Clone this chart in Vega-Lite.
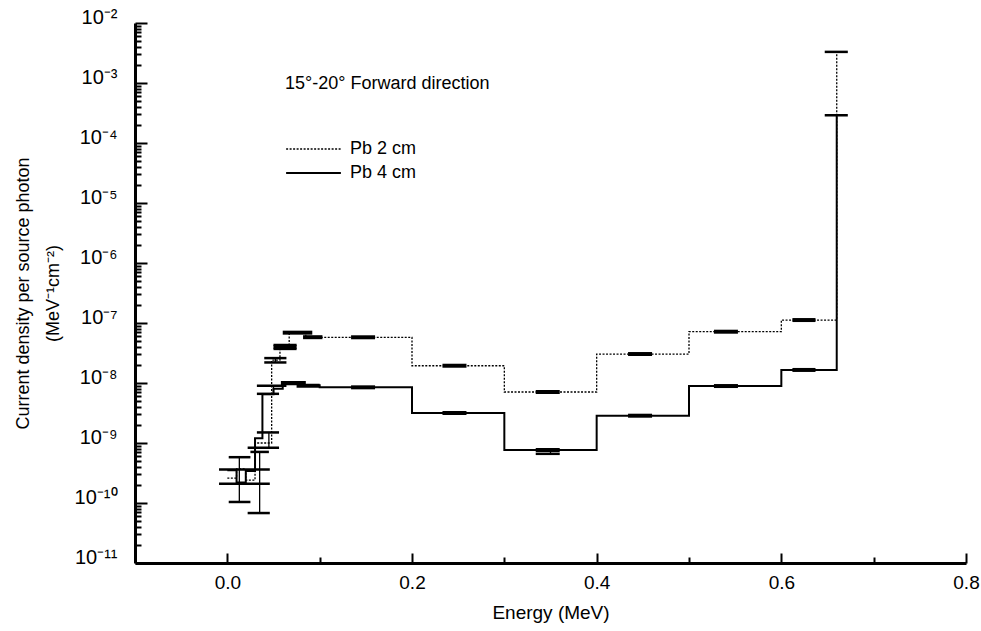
{
  "$schema": "https://vega.github.io/schema/vega-lite/v6.json",
  "width": 831,
  "height": 540,
  "autosize": "none",
  "padding": {"left": 135, "top": 23, "right": 15, "bottom": 68},
  "background": "white",
  "config": {
    "font": "Liberation Sans",
    "view": {"stroke": null},
    "axis": {"labelFont": "Liberation Sans", "titleFont": "Liberation Sans", "labelColor": "black", "titleColor": "black", "titleFontWeight": "normal"},
    "legend": {"labelFont": "Liberation Sans", "titleFont": "Liberation Sans"}
  },
  "datasets": {
    "lines": [
      {"series": "Pb 2 cm", "x": 0.0, "y": 2.6e-10},
      {"series": "Pb 2 cm", "x": 0.01, "y": 3.7e-10},
      {"series": "Pb 2 cm", "x": 0.02, "y": 2.4e-10},
      {"series": "Pb 2 cm", "x": 0.03, "y": 1.0e-9},
      {"series": "Pb 2 cm", "x": 0.048, "y": 2.4e-8},
      {"series": "Pb 2 cm", "x": 0.057, "y": 4.0e-8},
      {"series": "Pb 2 cm", "x": 0.067, "y": 6.9e-8},
      {"series": "Pb 2 cm", "x": 0.085, "y": 5.8e-8},
      {"series": "Pb 2 cm", "x": 0.1, "y": 5.78e-8},
      {"series": "Pb 2 cm", "x": 0.2, "y": 1.94e-8},
      {"series": "Pb 2 cm", "x": 0.3, "y": 7.08e-9},
      {"series": "Pb 2 cm", "x": 0.4, "y": 3.04e-8},
      {"series": "Pb 2 cm", "x": 0.5, "y": 7.16e-8},
      {"series": "Pb 2 cm", "x": 0.6, "y": 1.12e-7},
      {"series": "Pb 2 cm", "x": 0.66, "y": 3.3e-3},
      {"series": "Pb 4 cm", "x": 0.0, "y": 3.5e-10},
      {"series": "Pb 4 cm", "x": 0.01, "y": 2.2e-10},
      {"series": "Pb 4 cm", "x": 0.02, "y": 3.4e-10},
      {"series": "Pb 4 cm", "x": 0.03, "y": 1.2e-9},
      {"series": "Pb 4 cm", "x": 0.038, "y": 6.5e-9},
      {"series": "Pb 4 cm", "x": 0.05, "y": 8.0e-9},
      {"series": "Pb 4 cm", "x": 0.06, "y": 9.5e-9},
      {"series": "Pb 4 cm", "x": 0.08, "y": 9.2e-9},
      {"series": "Pb 4 cm", "x": 0.1, "y": 8.47e-9},
      {"series": "Pb 4 cm", "x": 0.2, "y": 3.16e-9},
      {"series": "Pb 4 cm", "x": 0.3, "y": 7.64e-10},
      {"series": "Pb 4 cm", "x": 0.4, "y": 2.85e-9},
      {"series": "Pb 4 cm", "x": 0.5, "y": 8.9e-9},
      {"series": "Pb 4 cm", "x": 0.6, "y": 1.65e-8},
      {"series": "Pb 4 cm", "x": 0.66, "y": 2.9e-4}
    ],
    "markers": [
      {"x": 0.134, "x2": 0.16, "y": 5.78e-8},
      {"x": 0.233, "x2": 0.259, "y": 1.94e-8},
      {"x": 0.334, "x2": 0.36, "y": 7.08e-9},
      {"x": 0.434, "x2": 0.46, "y": 3.04e-8},
      {"x": 0.527, "x2": 0.553, "y": 7.16e-8},
      {"x": 0.612, "x2": 0.637, "y": 1.12e-7},
      {"x": 0.05, "x2": 0.075, "y": 4.0e-8},
      {"x": 0.06, "x2": 0.092, "y": 6.9e-8},
      {"x": 0.082, "x2": 0.103, "y": 5.8e-8},
      {"x": 0.134, "x2": 0.16, "y": 8.47e-9},
      {"x": 0.233, "x2": 0.259, "y": 3.16e-9},
      {"x": 0.334, "x2": 0.36, "y": 7.64e-10},
      {"x": 0.434, "x2": 0.46, "y": 2.85e-9},
      {"x": 0.527, "x2": 0.553, "y": 8.9e-9},
      {"x": 0.612, "x2": 0.637, "y": 1.65e-8},
      {"x": 0.058, "x2": 0.085, "y": 1.0e-8},
      {"x": 0.075, "x2": 0.1, "y": 9.0e-9}
    ],
    "errors": [
      {"x": 0.013, "y": 1.04e-10, "y2": 5.8e-10},
      {"x": 0.035, "y": 6.8e-11, "y2": 7.1e-10},
      {"x": 0.045, "y": 8.3e-10, "y2": 1.5e-9},
      {"x": 0.05, "y": 6.6e-9, "y2": 9.0e-9},
      {"x": 0.052, "y": 2.2e-8, "y2": 2.6e-8},
      {"x": 0.063, "y": 3.7e-8, "y2": 4.3e-8},
      {"x": 0.35, "y": 6.6e-10, "y2": 8.0e-10}
    ],
    "caps": [
      {"x": 0.0015, "x2": 0.025, "y": 5.8e-10},
      {"x": 0.0015, "x2": 0.025, "y": 1.04e-10},
      {"x": 0.022, "x2": 0.046, "y": 6.8e-11},
      {"x": 0.025, "x2": 0.045, "y": 7.1e-10},
      {"x": 0.022, "x2": 0.056, "y": 8.3e-10},
      {"x": 0.032, "x2": 0.056, "y": 1.5e-9},
      {"x": 0.032, "x2": 0.056, "y": 6.6e-9},
      {"x": 0.032, "x2": 0.064, "y": 9.0e-9},
      {"x": 0.04, "x2": 0.064, "y": 2.2e-8},
      {"x": 0.04, "x2": 0.064, "y": 2.6e-8},
      {"x": 0.05, "x2": 0.075, "y": 3.7e-8},
      {"x": 0.05, "x2": 0.075, "y": 4.3e-8},
      {"x": 0.334, "x2": 0.36, "y": 6.6e-10},
      {"x": 0.647, "x2": 0.672, "y": 3.3e-3},
      {"x": 0.647, "x2": 0.672, "y": 2.9e-4},
      {"x": -0.009, "x2": 0.046, "y": 3.6e-10},
      {"x": -0.009, "x2": 0.046, "y": 2.1e-10}
    ]
  },
  "layer": [
    {
      "data": {"name": "lines"},
      "mark": {"type": "line", "interpolate": "step-after", "color": "black"},
      "encoding": {
        "x": {
          "field": "x", "type": "quantitative",
          "scale": {"domain": [-0.1, 0.8], "nice": false, "zero": false},
          "axis": {
            "title": "Energy (MeV)",
            "values": [0, 0.1, 0.2, 0.3, 0.4, 0.5, 0.6, 0.7, 0.8],
            "labelExpr": "round(datum.value*10) % 2 == 0 ? format(datum.value, '.1f') : ''",
            "tickSize": {"condition": {"test": "round(datum.value*10) % 2 == 0", "value": -10}, "value": -6},
            "tickWidth": 2, "tickColor": "black",
            "domainWidth": 3, "domainColor": "black",
            "grid": false, "labelOverlap": false, "labelFlush": false,
            "labelFontSize": 19, "labelPadding": 20,
            "titleFontSize": 19, "titlePadding": 7
          }
        },
        "y": {
          "field": "y", "type": "quantitative",
          "scale": {"type": "log", "domain": [1e-11, 1e-2], "nice": false},
          "axis": {
            "title": ["Current density per source photon", "(MeV⁻¹cm⁻²)"],
            "values": [1e-11,2e-11,3e-11,4e-11,5e-11,6e-11,7e-11,8e-11,9e-11,
                       1e-10,2e-10,3e-10,4e-10,5e-10,6e-10,7e-10,8e-10,9e-10,
                       1e-9,2e-9,3e-9,4e-9,5e-9,6e-9,7e-9,8e-9,9e-9,
                       1e-8,2e-8,3e-8,4e-8,5e-8,6e-8,7e-8,8e-8,9e-8,
                       1e-7,2e-7,3e-7,4e-7,5e-7,6e-7,7e-7,8e-7,9e-7,
                       1e-6,2e-6,3e-6,4e-6,5e-6,6e-6,7e-6,8e-6,9e-6,
                       1e-5,2e-5,3e-5,4e-5,5e-5,6e-5,7e-5,8e-5,9e-5,
                       1e-4,2e-4,3e-4,4e-4,5e-4,6e-4,7e-4,8e-4,9e-4,
                       1e-3,2e-3,3e-3,4e-3,5e-3,6e-3,7e-3,8e-3,9e-3,1e-2],
            "labelExpr": "abs(log(datum.value)/LN10 - round(log(datum.value)/LN10)) < 1e-6 ? ['10⁻¹¹','10⁻¹⁰','10⁻⁹','10⁻⁸','10⁻⁷','10⁻⁶','10⁻⁵','10⁻⁴','10⁻³','10⁻²'][round(log(datum.value)/LN10) + 11] : ''",
            "tickSize": {"condition": {"test": "abs(log(datum.value)/LN10 - round(log(datum.value)/LN10)) < 1e-6", "value": -12}, "value": -6},
            "tickWidth": 2, "tickColor": "black",
            "domainWidth": 3, "domainColor": "black",
            "grid": false, "labelOverlap": false, "labelFlush": false,
            "labelFontSize": 20, "labelPadding": 30, "labelBaseline": "alphabetic",
            "titleFontSize": 18, "titlePadding": 12, "titleLineHeight": 30
          }
        },
        "strokeDash": {
          "field": "series", "type": "nominal",
          "scale": {"domain": ["Pb 2 cm", "Pb 4 cm"], "range": [[2, 1.5], [1, 0]]},
          "legend": {
            "title": "15°-20° Forward direction",
            "orient": "none", "legendX": 150, "legendY": 52,
            "titleFontSize": 18, "titleFontWeight": "normal", "titlePadding": 45, "titleLimit": 500,
            "labelFontSize": 18, "labelLimit": 300, "symbolType": "stroke", "symbolSize": 3000,
            "symbolStrokeColor": "black", "symbolStrokeWidth": 1.6,
            "clipHeight": 22, "rowPadding": 2, "labelOffset": 8
          }
        },
        "strokeWidth": {
          "field": "series", "type": "nominal",
          "scale": {"domain": ["Pb 2 cm", "Pb 4 cm"], "range": [1.3, 2]},
          "legend": null
        }
      }
    },
    {
      "data": {"name": "markers"},
      "mark": {"type": "rule", "color": "black", "strokeWidth": 4},
      "encoding": {
        "x": {"field": "x", "type": "quantitative"},
        "x2": {"field": "x2"},
        "y": {"field": "y", "type": "quantitative"}
      }
    },
    {
      "data": {"name": "errors"},
      "mark": {"type": "rule", "color": "black", "strokeWidth": 1.3},
      "encoding": {
        "x": {"field": "x", "type": "quantitative"},
        "y": {"field": "y", "type": "quantitative"},
        "y2": {"field": "y2"}
      }
    },
    {
      "data": {"name": "caps"},
      "mark": {"type": "rule", "color": "black", "strokeWidth": 2.5},
      "encoding": {
        "x": {"field": "x", "type": "quantitative"},
        "x2": {"field": "x2"},
        "y": {"field": "y", "type": "quantitative"}
      }
    }
  ]
}
